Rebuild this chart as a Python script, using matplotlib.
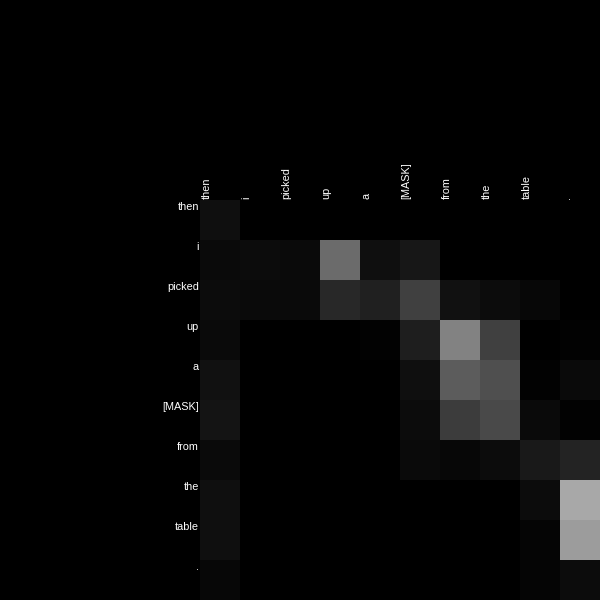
import matplotlib
matplotlib.use("Agg")
import matplotlib.pyplot as plt
import numpy as np

TOKENS = ["then", "i", "picked", "up", "a", "[MASK]", "from", "the", "table", "."]

# attention weights per query row (rows) over key tokens (columns)
ROW_THEN = [0.06, 0.00, 0.00, 0.00, 0.00, 0.00, 0.00, 0.00, 0.00, 0.00]
ROW_I = [0.04, 0.05, 0.04, 0.42, 0.06, 0.09, 0.00, 0.00, 0.00, 0.00]
ROW_PICKED = [0.05, 0.04, 0.04, 0.16, 0.13, 0.25, 0.07, 0.05, 0.03, 0.00]
ROW_UP = [0.04, 0.00, 0.00, 0.00, 0.01, 0.12, 0.51, 0.25, 0.00, 0.01]
ROW_A = [0.07, 0.00, 0.00, 0.00, 0.00, 0.06, 0.36, 0.31, 0.01, 0.04]
ROW_MASK = [0.08, 0.00, 0.00, 0.00, 0.00, 0.05, 0.24, 0.29, 0.04, 0.01]
ROW_FROM = [0.04, 0.00, 0.00, 0.00, 0.00, 0.04, 0.03, 0.05, 0.10, 0.14]
ROW_THE = [0.06, 0.00, 0.00, 0.00, 0.00, 0.00, 0.00, 0.00, 0.05, 0.66]
ROW_TABLE = [0.06, 0.00, 0.00, 0.00, 0.00, 0.00, 0.00, 0.00, 0.02, 0.61]
ROW_DOT = [0.03, 0.00, 0.00, 0.00, 0.00, 0.00, 0.00, 0.00, 0.02, 0.05]

TEXT_COLOR = "#FFFFFF"
FONT = ["Liberation Sans", "DejaVu Sans"]

weights = np.array([ROW_THEN, ROW_I, ROW_PICKED, ROW_UP, ROW_A,
                    ROW_MASK, ROW_FROM, ROW_THE, ROW_TABLE, ROW_DOT])

fig = plt.figure(figsize=(6, 6), dpi=100, facecolor="black")
ax = fig.add_axes([200 / 600, 0, 400 / 600, 400 / 600])
ax.imshow(weights, cmap="gray", vmin=0, vmax=1, interpolation="nearest", aspect="auto")
ax.set_axis_off()

for i, tok in enumerate(TOKENS):
    # row labels, right aligned against the grid
    ax.text(-0.53, i - 0.46, tok, ha="right", va="top", color=TEXT_COLOR,
            fontsize=7.8, family=FONT, clip_on=False)
    # column labels, rotated above the grid
    ax.text(i - 0.46, -0.52, tok, ha="left", va="bottom", rotation=90,
            color=TEXT_COLOR, fontsize=7.8, family=FONT, clip_on=False)

fig.savefig("out.png", dpi=100, facecolor="black")
